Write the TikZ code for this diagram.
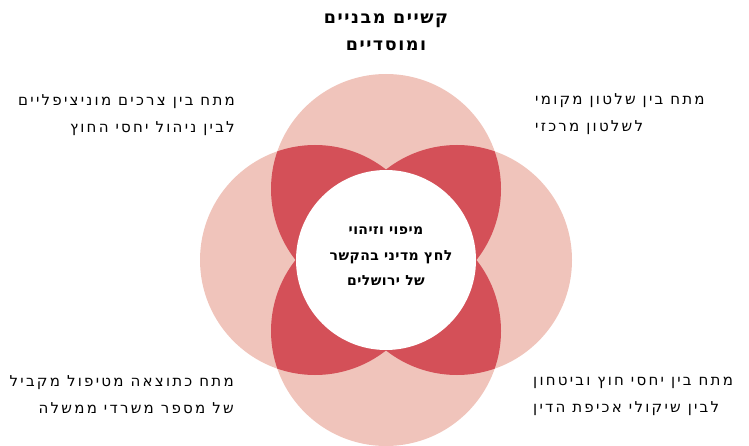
\documentclass[tikz,border=0pt]{standalone}
\usepackage{fontspec}
\usepackage{tikz}
\usepackage{xcolor}
\newfontfamily\hebfont[Script=Hebrew, LetterSpace=15]{DejaVu Sans}
\newfontfamily\hebtitlefont[Script=Hebrew, LetterSpace=9]{DejaVu Sans}
\newfontfamily\hebhubfont[Script=Hebrew, LetterSpace=3]{DejaVu Sans}
\TeXXeTstate=1
\definecolor{petal}{HTML}{F0C4BB}
\definecolor{overlap}{HTML}{D45058}
\tikzset{
    petal-circle/.style = {fill=petal},
    overlap-lens/.style = {fill=overlap},
    side-text/.style = {font=\hebfont\fontsize{15}{27}\selectfont, inner sep=0pt},
    title-text/.style = {font=\hebtitlefont\bfseries\fontsize{17.5}{27}\selectfont, align=center, inner sep=0pt},
    hub-text/.style = {font=\hebhubfont\bfseries\fontsize{14}{25.5}\selectfont, align=center, inner sep=0pt},
}

\begin{document}
\begin{tikzpicture}[x=1pt,y=-1pt]
\useasboundingbox (0,0) rectangle (749,446);
% four petals
\foreach \cx/\cy in {386/189, 315/260, 457/260, 386/331}
    \fill[petal-circle] (\cx,\cy) circle (115pt);
% overlaps of neighbouring petals
\foreach \ax/\ay/\bx/\by in {386/189/315/260, 386/189/457/260, 386/331/315/260, 386/331/457/260} {
    \begin{scope}
        \clip (\ax,\ay) circle (115pt);
        \fill[overlap-lens] (\bx,\by) circle (115pt);
    \end{scope}
}
\fill[white] (386,260) circle (90pt);
\node[hub-text] (hub) at (386,256.5) {\beginR מיפוי וזיהוי\endR\\\hspace*{10pt}\beginR לחץ מדיני בהקשר\endR\\\beginR של ירושלים\endR};
\node[title-text] (title) at (386,32.5) {\beginR קשיים מבניים\endR\\\beginR ומוסדיים\endR};
\node[side-text, align=right, anchor=east] (municipal) at (235,115) {\beginR מתח בין צרכים מוניציפליים\endR\\\beginR לבין ניהול יחסי החוץ\endR};
\node[side-text, align=left, anchor=west] (local) at (535,114.5) {\beginR מתח בין שלטון מקומי\endR\\\beginR לשלטון מרכזי\endR};
\node[side-text, align=right, anchor=east] (ministries) at (234,394.5) {\beginR מתח כתוצאה מטיפול מקביל\endR\\\beginR של מספר משרדי ממשלה\endR};
\node[side-text, align=left, anchor=west] (security) at (533,396) {\beginR מתח בין יחסי חוץ וביטחון\endR\\\beginR לבין שיקולי אכיפת הדין\endR};
\end{tikzpicture}
\end{document}
